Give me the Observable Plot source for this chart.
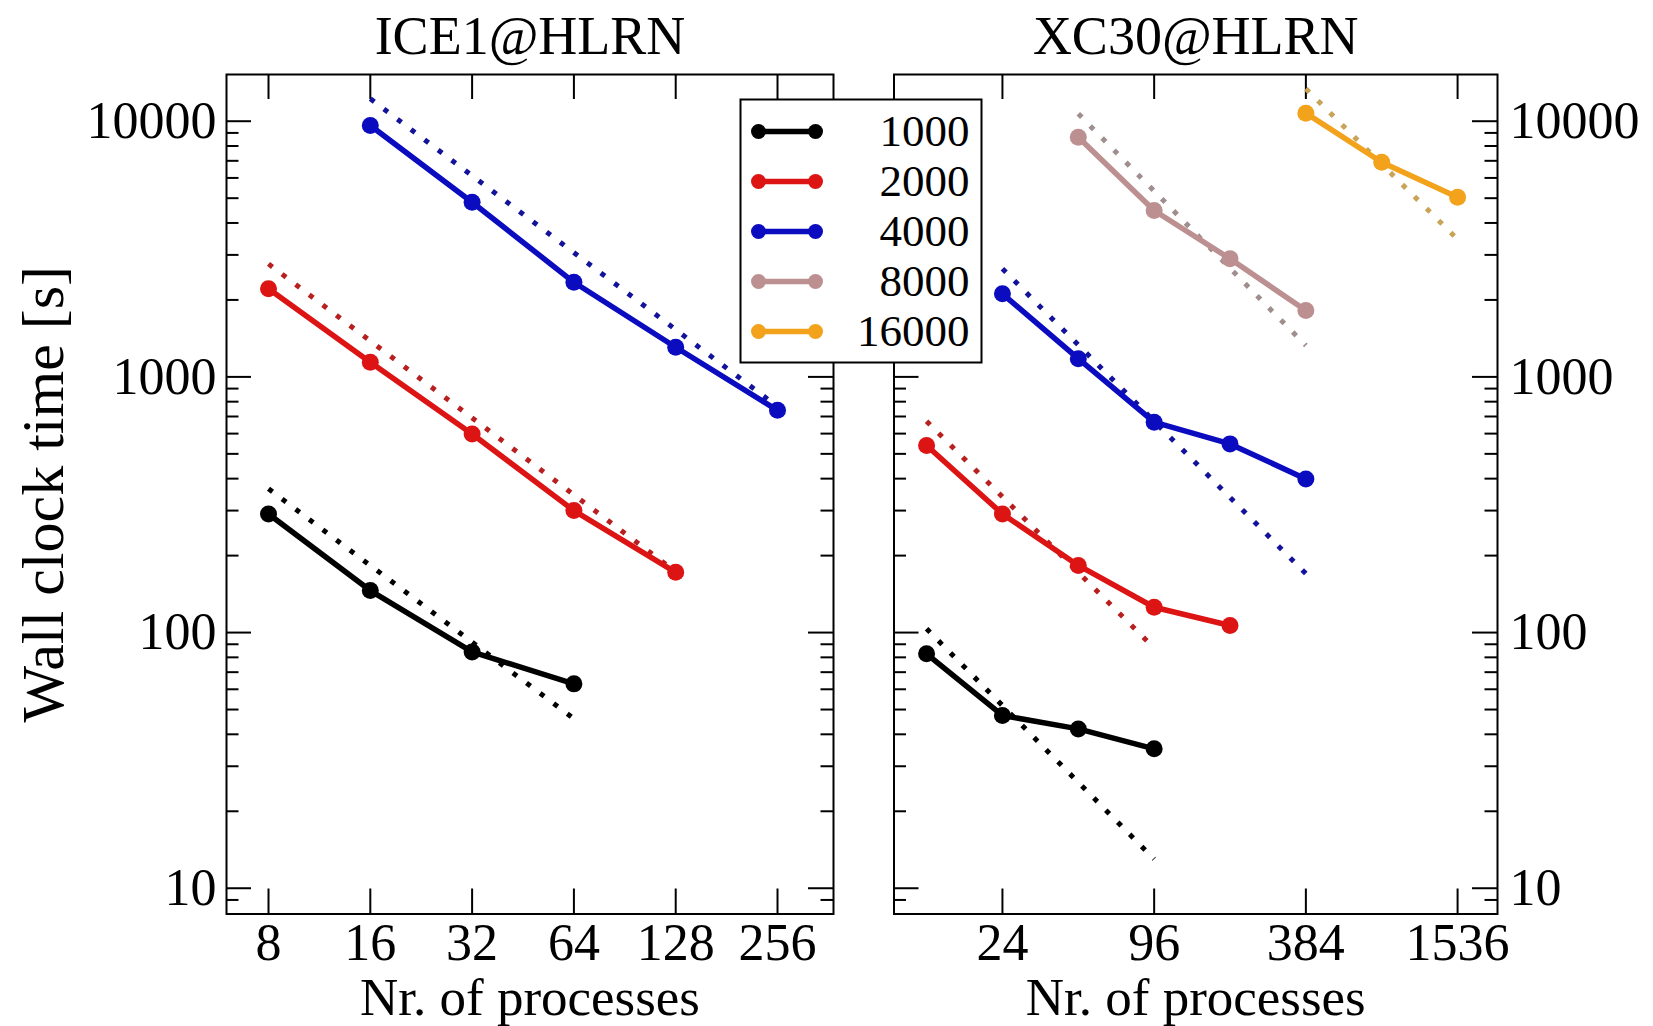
<!DOCTYPE html>
<html>
<head>
<meta charset="utf-8">
<script src="https://cdn.jsdelivr.net/npm/d3@7"></script>
<script src="https://cdn.jsdelivr.net/npm/@observablehq/plot@0.6"></script>
<style>
html, body { margin: 0; padding: 0; background: #fff; }
#wrap { position: relative; width: 1653px; height: 1026px; overflow: hidden; background: #fff; }
#wrap > svg { position: absolute; }
</style>
</head>
<body>
<div id="wrap"></div>
<script>
// ---------------- data ----------------
const SIZES = ["1000", "2000", "4000", "8000", "16000"];
const COLORS = ["#000000", "#dd1414", "#0b0bc0", "#bc9090", "#f2a21b"];
const DOT_COLORS = ["#000000", "#b82020", "#12129a", "#a08e8e", "#c9a458"];

const ICE_TITLE = "ICE1@HLRN";
const XC_TITLE = "XC30@HLRN";
const X_LABEL = "Nr. of processes";
const Y_LABEL = "Wall clock time [s]";

const ICE_TICKS = [8, 16, 32, 64, 128, 256];
const XC_TICKS = [24, 96, 384, 1536];
const Y_TICKS = [10, 100, 1000, 10000];
const Y_MINOR = [9, 20, 30, 40, 50, 60, 70, 80, 90,
  200, 300, 400, 500, 600, 700, 800, 900,
  2000, 3000, 4000, 5000, 6000, 7000, 8000, 9000];

// ICE1@HLRN measured wall clock times
const iceP1000 = [8, 16, 32, 64];
const ice1000 = [291, 146, 84, 63];
const iceP2000 = [8, 16, 32, 64, 128];
const ice2000 = [2211, 1141, 598, 300, 172];
const iceP4000 = [16, 32, 64, 128, 256];
const ice4000 = [9620, 4820, 2344, 1306, 740];
// ICE1 ideal-scaling (dotted) end points
const iceIdealP1000 = [8, 64];
const iceIdeal1000 = [365, 46];
const iceIdealP2000 = [8, 128];
const iceIdeal2000 = [2767, 173];
const iceIdealP4000 = [16, 256];
const iceIdeal4000 = [12233, 765];

// XC30@HLRN measured wall clock times
const xcP1000 = [12, 24, 48, 96];
const xc1000 = [82.6, 47.4, 42, 35.1];
const xcP2000 = [12, 24, 48, 96, 192];
const xc2000 = [539, 291, 183, 125.6, 106.6];
const xcP4000 = [24, 48, 96, 192, 384];
const xc4000 = [2113, 1178, 665, 547, 399];
const xcP8000 = [48, 96, 192, 384];
const xc8000 = [8657, 4476, 2897, 1818];
const xcP16000 = [384, 768, 1536];
const xc16000 = [10750, 6910, 5040];
// XC30 ideal-scaling (dotted) end points
const xcIdealP1000 = [12, 96];
const xcIdeal1000 = [103.5, 13.0];
const xcIdealP2000 = [12, 96];
const xcIdeal2000 = [671, 87];
const xcIdealP4000 = [24, 384];
const xcIdeal4000 = [2648, 170];
const xcIdealP8000 = [48, 384];
const xcIdeal8000 = [10690, 1327];
const xcIdealP16000 = [384, 1536];
const xcIdeal16000 = [13390, 3450];

// ---------------- helpers ----------------
const FONT = '"Liberation Serif", "Times New Roman", Times, serif';
const rows = (procs, times) => procs.map((p, i) => ({p, t: times[i]}));

const W_TOTAL = 1653, H = 1026;
const M_TOP = 74, M_BOTTOM = 112.5;
const FRAME_H = H - M_TOP - M_BOTTOM;
const MAJOR = 25, MINOR = 12.5;
const TICK_FONT = 52, TITLE_FONT = 54, XLABEL_FONT = 53, YTITLE_FONT = 60, LEGEND_FONT = 45;

function panel({width, marginLeft, marginRight, xDomain, xTicks, title, series, yLabelSide, yTitle}) {
  const frameW = width - marginLeft - marginRight;
  const marks = [];
  // x ticks (inward, bottom & top)
  marks.push(Plot.tickX(xTicks, {x: d => d, insetTop: FRAME_H - MAJOR, stroke: "black", strokeWidth: 2}));
  marks.push(Plot.tickX(xTicks, {x: d => d, insetBottom: FRAME_H - MAJOR, stroke: "black", strokeWidth: 2}));
  // y ticks (inward, both sides)
  marks.push(Plot.tickY(Y_TICKS, {y: d => d, insetRight: frameW - MAJOR, stroke: "black", strokeWidth: 2}));
  marks.push(Plot.tickY(Y_TICKS, {y: d => d, insetLeft: frameW - MAJOR, stroke: "black", strokeWidth: 2}));
  marks.push(Plot.tickY(Y_MINOR, {y: d => d, insetRight: frameW - MINOR, stroke: "black", strokeWidth: 2}));
  marks.push(Plot.tickY(Y_MINOR, {y: d => d, insetLeft: frameW - MINOR, stroke: "black", strokeWidth: 2}));
  // ideal-scaling dotted lines
  for (const s of series) {
    marks.push(Plot.line(rows(s.idealP, s.ideal), {x: "p", y: "t", stroke: DOT_COLORS[s.i], strokeWidth: 5, strokeDasharray: "5,12", strokeLinecap: "butt"}));
  }
  // measured lines + markers
  for (const s of series) {
    const r = rows(s.procs, s.times);
    marks.push(Plot.line(r, {x: "p", y: "t", stroke: COLORS[s.i], strokeWidth: 5.5}));
    marks.push(Plot.dot(r, {x: "p", y: "t", r: 8.5, fill: COLORS[s.i]}));
  }
  marks.push(Plot.frame({stroke: "black", strokeWidth: 2}));
  // x tick labels
  marks.push(Plot.text(xTicks, {x: d => d, frameAnchor: "bottom", dy: 9, lineAnchor: "top", text: d => String(d), fontSize: TICK_FONT, fill: "black"}));
  // y tick labels
  if (yLabelSide === "left") {
    marks.push(Plot.text(Y_TICKS, {y: d => d, frameAnchor: "left", dx: -10, textAnchor: "end", text: d => String(d), fontSize: TICK_FONT, fill: "black"}));
  } else {
    marks.push(Plot.text(Y_TICKS, {y: d => d, frameAnchor: "right", dx: 12, textAnchor: "start", text: d => String(d), fontSize: TICK_FONT, fill: "black"}));
  }
  // title
  marks.push(Plot.text([title], {frameAnchor: "top", dy: -21, lineAnchor: "bottom", textAnchor: "middle", text: d => d, fontSize: TITLE_FONT, fill: "black"}));
  // x label
  marks.push(Plot.text([X_LABEL], {frameAnchor: "bottom", dy: 100.5, lineAnchor: "bottom", textAnchor: "middle", text: d => d, fontSize: XLABEL_FONT, fill: "black"}));
  if (yTitle) {
    marks.push(Plot.text([yTitle], {frameAnchor: "left", dx: -(marginLeft - 62), rotate: -90, lineAnchor: "bottom", textAnchor: "middle", text: d => d, fontSize: YTITLE_FONT, fill: "black"}));
  }
  return Plot.plot({
    width, height: H,
    marginLeft, marginRight, marginTop: M_TOP, marginBottom: M_BOTTOM,
    x: {type: "log", base: 2, domain: xDomain, axis: null},
    y: {type: "log", domain: [7.93, 15230], axis: null},
    style: `font-family: ${FONT}; font-size: 50px; background: transparent; overflow: visible; max-width: none;`,
    marks
  });
}

const iceSeries = [
  {i: 0, procs: iceP1000, times: ice1000, idealP: iceIdealP1000, ideal: iceIdeal1000},
  {i: 1, procs: iceP2000, times: ice2000, idealP: iceIdealP2000, ideal: iceIdeal2000},
  {i: 2, procs: iceP4000, times: ice4000, idealP: iceIdealP4000, ideal: iceIdeal4000}
];
const xcSeries = [
  {i: 0, procs: xcP1000, times: xc1000, idealP: xcIdealP1000, ideal: xcIdeal1000},
  {i: 1, procs: xcP2000, times: xc2000, idealP: xcIdealP2000, ideal: xcIdeal2000},
  {i: 2, procs: xcP4000, times: xc4000, idealP: xcIdealP4000, ideal: xcIdeal4000},
  {i: 3, procs: xcP8000, times: xc8000, idealP: xcIdealP8000, ideal: xcIdeal8000},
  {i: 4, procs: xcP16000, times: xc16000, idealP: xcIdealP16000, ideal: xcIdeal16000}
];

const LEFT_W = 863;
const left = panel({
  width: LEFT_W, marginLeft: 226, marginRight: LEFT_W - 833,
  xDomain: [6.01, 374.8], xTicks: ICE_TICKS, title: ICE_TITLE,
  series: iceSeries, yLabelSide: "left", yTitle: Y_LABEL
});
const RIGHT_W = W_TOTAL - LEFT_W;
const right = panel({
  width: RIGHT_W, marginLeft: 893.5 - LEFT_W, marginRight: W_TOTAL - 1497,
  xDomain: [8.91, 2212], xTicks: XC_TICKS, title: XC_TITLE,
  series: xcSeries, yLabelSide: "right", yTitle: null
});

// legend
const LG_W = 241, LG_H = 263;
const legendMarks = [];
SIZES.forEach((s, i) => {
  legendMarks.push(Plot.link([s], {x1: 18, x2: 75, y1: d => d, y2: d => d, stroke: COLORS[i], strokeWidth: 5.5}));
  legendMarks.push(Plot.dot([s], {x: 18, y: d => d, r: 7.5, fill: COLORS[i]}));
  legendMarks.push(Plot.dot([s], {x: 75, y: d => d, r: 7.5, fill: COLORS[i]}));
});
legendMarks.push(Plot.text(SIZES, {x: 229, y: d => d, text: d => d, textAnchor: "end", fontSize: LEGEND_FONT, fill: "black"}));
legendMarks.push(Plot.frame({stroke: "black", strokeWidth: 2}));
const legend = Plot.plot({
  width: LG_W, height: LG_H, margin: 0,
  x: {domain: [0, LG_W], range: [0, LG_W], axis: null},
  y: {type: "point", domain: SIZES, range: [31.5, 232], padding: 0, axis: null},
  style: `font-family: ${FONT}; font-size: 45px; background: #fff; overflow: visible; max-width: none;`,
  marks: legendMarks
});

const wrap = document.getElementById("wrap");
left.style.left = "0px"; left.style.top = "0px";
right.style.left = LEFT_W + "px"; right.style.top = "0px";
legend.style.left = "740px"; legend.style.top = "99px";
wrap.appendChild(left);
wrap.appendChild(right);
wrap.appendChild(legend);
</script>
</body>
</html>
